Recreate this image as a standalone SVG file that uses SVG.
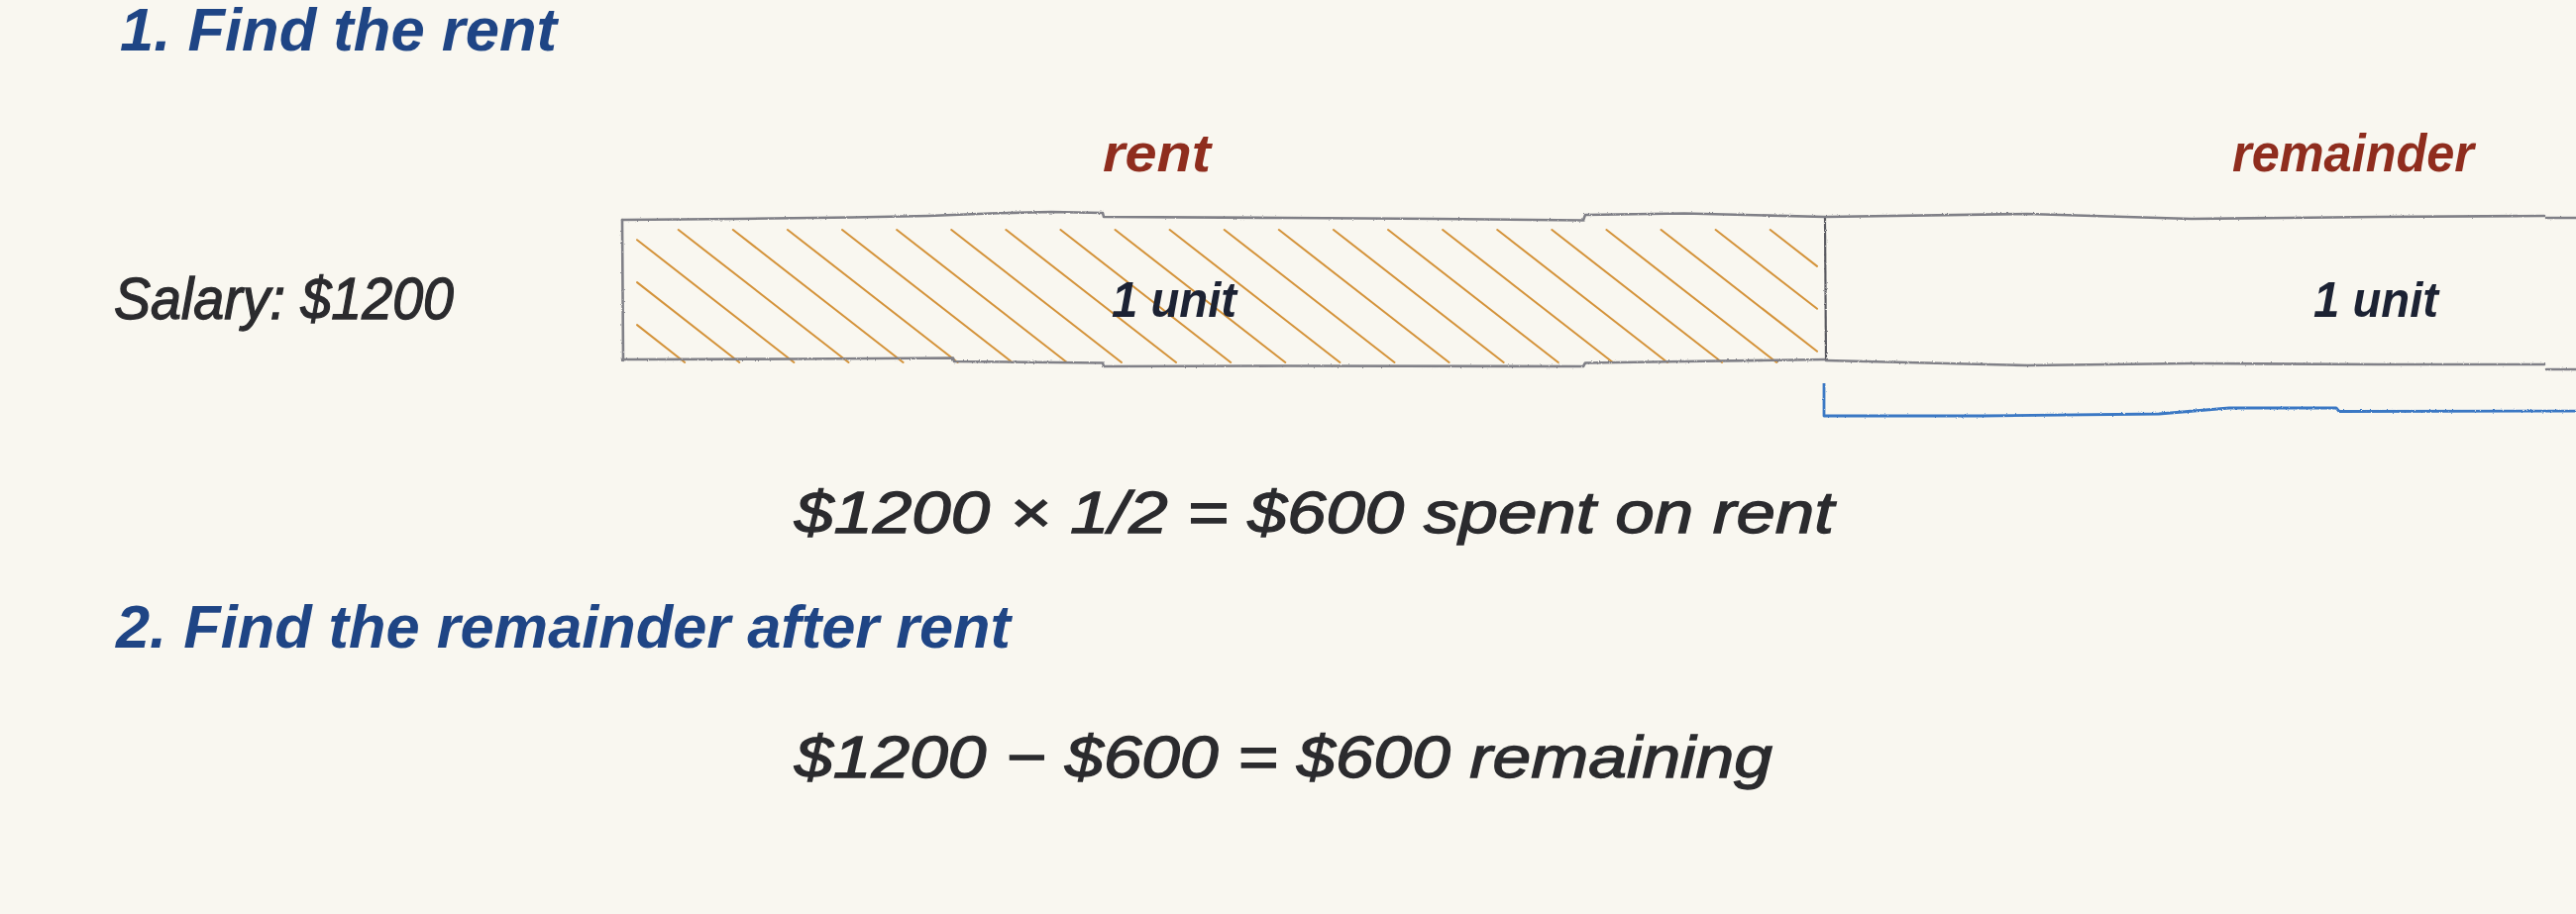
<svg xmlns="http://www.w3.org/2000/svg" width="2600" height="923" viewBox="0 0 2600 923">
  <style>
    .title { font-family: "Liberation Sans", Arial, sans-serif; font-weight: bold; font-style: italic; font-size: 62px; fill: #1f4585; }
    .label { font-family: "Liberation Sans", Arial, sans-serif; font-weight: bold; font-style: italic; font-size: 54px; fill: #8f2d1e; }
    .unit { font-family: "Liberation Sans", Arial, sans-serif; font-weight: bold; font-style: italic; font-size: 50px; fill: #1c2233; }
    .body { font-family: "Liberation Sans", Arial, sans-serif; font-style: italic; font-size: 60px; fill: #2b2b2e; stroke: #2b2b2e; stroke-width: 1.3; }
    .edge { fill: none; stroke: #808087; stroke-width: 2.6; stroke-linejoin: round; stroke-linecap: round; }
    .divider { fill: none; stroke: #5a5a60; stroke-width: 2.2; }
    .hatch { stroke: #d4933a; stroke-width: 2; stroke-linecap: round; fill: none; }
    .bracket { fill: none; stroke: #3a78c4; stroke-width: 2.8; stroke-linejoin: round; }
  </style>
  <defs>
    <filter id="pencil" x="-2%" y="-20%" width="104%" height="140%">
      <feTurbulence type="fractalNoise" baseFrequency="0.9" numOctaves="2" seed="3" result="n"/>
      <feDisplacementMap in="SourceGraphic" in2="n" scale="2.2" xChannelSelector="R" yChannelSelector="G"/>
    </filter>
  </defs>

  <rect x="0" y="0" width="2600" height="923" fill="#f9f7f0"/>

  <g id="title-1">
    <text class="title" x="121" y="51" textLength="441" lengthAdjust="spacingAndGlyphs">1. Find the rent</text>
  </g>

  <g id="salary">
    <text class="body" x="115" y="322" textLength="343" lengthAdjust="spacingAndGlyphs">Salary: $1200</text>
  </g>

  <g id="rent-box">
    <g class="hatch">
      <line x1="643" y1="328.1" x2="691.2" y2="366"/>
      <line x1="643" y1="285.1" x2="746.3" y2="366"/>
      <line x1="643" y1="242.2" x2="801.4" y2="366"/>
      <line x1="684.7" y1="232" x2="856.5" y2="366"/>
      <line x1="739.8" y1="232" x2="911.6" y2="366"/>
      <line x1="794.9" y1="232" x2="966.7" y2="366"/>
      <line x1="850.0" y1="232" x2="1021.8" y2="366"/>
      <line x1="905.1" y1="232" x2="1076.9" y2="366"/>
      <line x1="960.2" y1="232" x2="1132.0" y2="366"/>
      <line x1="1015.3" y1="232" x2="1187.1" y2="366"/>
      <line x1="1070.4" y1="232" x2="1242.2" y2="366"/>
      <line x1="1125.5" y1="232" x2="1297.3" y2="366"/>
      <line x1="1180.6" y1="232" x2="1352.4" y2="366"/>
      <line x1="1235.7" y1="232" x2="1407.5" y2="366"/>
      <line x1="1290.8" y1="232" x2="1462.6" y2="366"/>
      <line x1="1345.9" y1="232" x2="1517.7" y2="366"/>
      <line x1="1401.0" y1="232" x2="1572.8" y2="366"/>
      <line x1="1456.1" y1="232" x2="1627.9" y2="366"/>
      <line x1="1511.2" y1="232" x2="1683.0" y2="366"/>
      <line x1="1566.3" y1="232" x2="1738.1" y2="366"/>
      <line x1="1621.4" y1="232" x2="1793.2" y2="366"/>
      <line x1="1676.5" y1="232" x2="1834" y2="354.8"/>
      <line x1="1731.6" y1="232" x2="1834" y2="311.8"/>
      <line x1="1786.7" y1="232" x2="1834" y2="268.9"/>
    </g>
    <g filter="url(#pencil)">
      <path class="edge" d="M628,222 L746,221 L860,219.5 L937,218 L1000,215.5 L1061,214 L1113,215 L1114,219 L1300,220 L1450,221 L1598,222.5 L1600,217 L1700,215.5 L1842,219"/>
      <path class="edge" d="M628,222 L629,364"/>
      <path class="edge" d="M628,363 L800,362.5 L962,361.5 L963,365 L1113,366.5 L1114,370 L1300,369.5 L1598,370 L1600,366.5 L1700,365 L1842,363"/>
      <path class="divider" d="M1842,220 L1843,364"/>
    </g>
    <text class="label" x="1113" y="173" textLength="109" lengthAdjust="spacingAndGlyphs">rent</text>
    <text class="unit" x="1122" y="320" textLength="126" lengthAdjust="spacingAndGlyphs">1 unit</text>
  </g>

  <g id="remainder-box">
    <g filter="url(#pencil)">
      <path class="edge" d="M1843,219 L2046,216 L2212,221 L2400,219 L2568,218 M2570,220 L2620,220"/>
      <path class="edge" d="M1843,364 L2046,369 L2212,367 L2400,368 L2568,368 M2570,373 L2620,373"/>
    </g>
    <text class="label" x="2253" y="173" textLength="244" lengthAdjust="spacingAndGlyphs">remainder</text>
    <text class="unit" x="2335" y="320" textLength="126" lengthAdjust="spacingAndGlyphs">1 unit</text>
  </g>

  <g id="connectors">
    <path class="bracket" filter="url(#pencil)" d="M1841,387 L1841,420 L2000,420 L2179,418 L2250,412 L2358,412 L2361,415.5 L2620,415"/>
  </g>

  <g id="equation-1">
    <text class="body" x="802" y="538" textLength="1049" lengthAdjust="spacingAndGlyphs">$1200 × 1/2 = $600 spent on rent</text>
  </g>

  <g id="title-2">
    <text class="title" x="117" y="654" textLength="903" lengthAdjust="spacingAndGlyphs">2. Find the remainder after rent</text>
  </g>

  <g id="equation-2">
    <text class="body" x="802" y="785" textLength="987" lengthAdjust="spacingAndGlyphs">$1200 − $600 = $600 remaining</text>
  </g>
</svg>
